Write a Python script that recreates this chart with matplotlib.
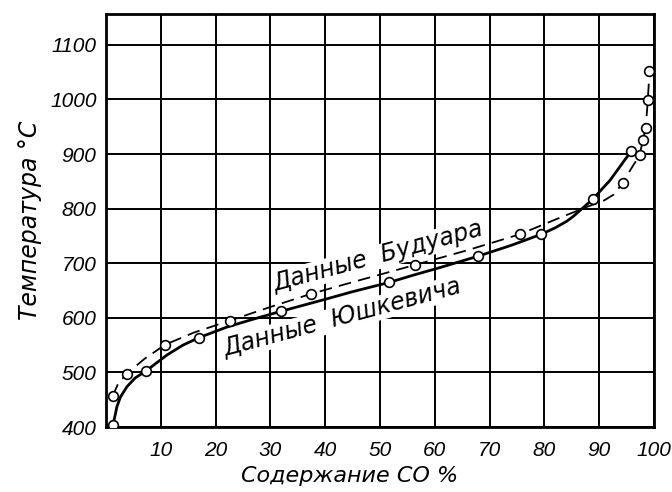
import matplotlib
matplotlib.use("Agg")
import matplotlib.pyplot as plt

plt.rcParams['font.family'] = ['Liberation Sans', 'DejaVu Sans']
plt.rcParams['font.style'] = 'italic'

# curve: Юшкевич (solid)
yush_x = [1.2, 1.6, 1.95, 2.6, 3.8, 5.3, 7.3, 11.1, 14, 17.0, 22, 26.3, 31.9, 40, 45,
          51.7, 56, 60.9, 67.9, 74, 79.4, 82, 84.1, 85.3, 88.8, 92, 95.9]
yush_t = [403, 420, 437, 455, 474, 490, 503, 532, 550, 564, 583, 596, 612, 634, 648,
          665, 678, 692, 713, 733, 753, 765, 777, 786, 817, 852, 906]
yush_pts_x = [1.2, 7.3, 17.0, 31.9, 51.7, 67.9, 79.4, 88.8, 95.9]
yush_pts_t = [404, 503, 564, 612, 665, 713, 753, 817, 906]

# curve: Будуар (dashed)
boud_x = [1.2, 2.2, 3.8, 7, 10.8, 16, 22.6, 30, 37.4, 47, 56.4, 66, 75.5, 82, 87.7,
          90.9, 92.7, 94.3, 95.9, 97.4, 98.0, 98.5, 98.9, 99.2]
boud_t = [457, 480, 498, 525, 551, 573, 595, 620, 644, 671, 697, 724, 753, 780, 803,
          815, 826, 847, 874, 898, 926, 947, 999, 1052]
boud_pts_x = [1.2, 3.8, 10.8, 22.6, 37.4, 56.4, 75.5, 94.3, 97.4, 98.0, 98.5, 98.9, 99.2]
boud_pts_t = [457, 498, 551, 595, 644, 697, 753, 847, 898, 926, 947, 999, 1052]

x_ticks = [10, 20, 30, 40, 50, 60, 70, 80, 90, 100]
y_ticks = [400, 500, 600, 700, 800, 900, 1000, 1100]

fig = plt.figure(figsize=(6.72, 4.92), dpi=100)
ax = fig.add_axes([0.158, 0.132, 0.815, 0.84])

ax.plot(yush_x, yush_t, color='black', lw=2.0, zorder=3)
ax.plot(boud_x, boud_t, color='black', lw=1.3, dashes=(7, 4), zorder=3)
ax.plot(yush_pts_x, yush_pts_t, 'o', ms=7, mfc='white', mec='black', mew=1.2, zorder=4)
ax.plot(boud_pts_x, boud_pts_t, 'o', ms=7, mfc='white', mec='black', mew=1.2, zorder=4)

lab = dict(rotation=15, ha='center', va='center', fontsize=17,
           family=['DejaVu Sans'], style='oblique', zorder=2,
           bbox=dict(fc='white', ec='none', pad=0.2))
ax.text(49.8, 712, 'Данные  Будуара', **lab)
ax.text(43.1, 600, 'Данные  Юшкевича', **lab)

ax.set_xlim(0, 100)
ax.set_ylim(400, 1157)
ax.set_xticks(x_ticks)
ax.set_yticks(y_ticks)
ax.tick_params(length=0, labelsize=15)
ax.tick_params(axis='x', pad=10)
ax.tick_params(axis='y', pad=7)
ax.grid(True, color='black', lw=1.4, zorder=0)
ax.set_axisbelow(True)
for s in ax.spines.values():
    s.set_linewidth(2)

ax.set_xlabel('Содержание СО %', fontsize=16, family=['DejaVu Sans'],
              style='oblique', labelpad=6)
ax.xaxis.set_label_coords(0.445, -0.095)
ax.set_ylabel('Температура °С', fontsize=17, family=['DejaVu Sans'],
              style='oblique', labelpad=6)

fig.savefig('out.png', dpi=100)
